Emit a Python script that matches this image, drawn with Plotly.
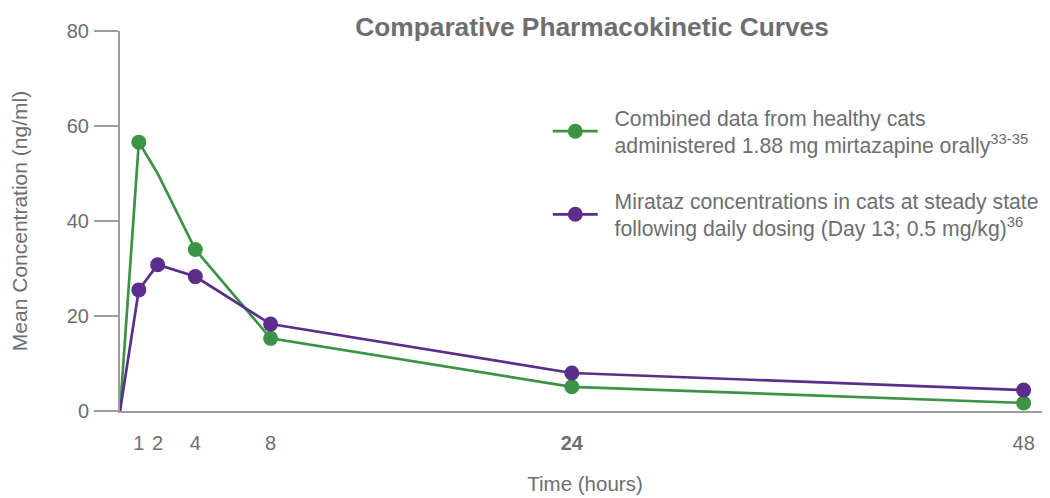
import plotly.graph_objects as go

hours = [0, 1, 2, 4, 8, 24, 48]
combined = [0, 56.6, 50.0, 34.0, 15.3, 5.1, 1.7]
combined_marked = [1, 3, 4, 5, 6]          # indices of points drawn with a marker
hours_m = [0, 1, 2, 4, 8, 24, 48]
mirataz = [0, 25.5, 30.8, 28.3, 18.3, 8.0, 4.4]
mirataz_marked = [1, 2, 3, 4, 5, 6]

x_ticks = [1, 2, 4, 8, 24, 48]
x_ticktext = ["1", "2", "4", "8", "<b>24</b>", "48"]
y_ticks = [0, 20, 40, 60, 80]

GREEN = "#3C9346"
PURPLE = "#5B2E8C"
GRAY = "#6D6E71"
AXIS = "#9D9D9D"
FONT = "Liberation Sans, Arial, sans-serif"
PAD = "\u00a0\u00a0"

name1 = (PAD + "Combined data from healthy cats<br>" + PAD +
         "administered 1.88 mg mirtazapine orally<sup>33-35</sup>")
name2 = (PAD + "Mirataz concentrations in cats at steady state<br>" + PAD +
         "following daily dosing (Day 13; 0.5 mg/kg)<sup>36</sup>")

fig = go.Figure()
fig.add_trace(go.Scatter(
    x=hours, y=combined, mode="lines+markers", name=name1, legendgroup="a",
    line=dict(color=GREEN, width=2.7),
    marker=dict(color=GREEN, size=15),
    selectedpoints=combined_marked,
    selected=dict(marker=dict(opacity=1)),
    unselected=dict(marker=dict(opacity=0)),
))
fig.add_trace(go.Scatter(
    x=hours_m, y=mirataz, mode="lines+markers", name=name2, legendgroup="b",
    line=dict(color=PURPLE, width=2.7),
    marker=dict(color=PURPLE, size=15),
    selectedpoints=mirataz_marked,
    selected=dict(marker=dict(opacity=1)),
    unselected=dict(marker=dict(opacity=0)),
))

# page has an 8px body margin; figure sized so it ends at the window edge
fig.update_layout(
    width=1042, height=490,
    margin=dict(l=112, r=0, t=23, b=87),
    paper_bgcolor="white", plot_bgcolor="white",
    font=dict(family=FONT, color=GRAY, size=20),
    title=dict(text="<b>Comparative Pharmacokinetic Curves</b>", x=0.5605, xanchor="center",
               y=0.961, yanchor="middle", font=dict(size=26.3, color=GRAY)),
    showlegend=True,
    legend=dict(x=0.46, y=0.826, xanchor="left", yanchor="top", font=dict(size=21.2, color=GRAY),
                bgcolor="rgba(0,0,0,0)", tracegroupgap=25, itemwidth=45),
    xaxis=dict(range=[0, 49.4], tickvals=x_ticks, ticktext=x_ticktext, showgrid=False,
               zeroline=False, showline=True, linecolor=AXIS, linewidth=2, ticks="",
               ticklabelstandoff=13, tickfont=dict(size=20, color=GRAY), automargin="left+right",
               title=dict(text="Time (hours)", font=dict(size=20.5, color=GRAY), standoff=24)),
    yaxis=dict(range=[0, 80], tickvals=y_ticks, showgrid=False, zeroline=False,
               showline=True, linecolor=AXIS, linewidth=2, ticks="outside", ticklen=24,
               tickcolor=AXIS, tickwidth=2, ticklabelstandoff=1, tickfont=dict(size=20, color=GRAY),
               automargin="top+bottom",
               title=dict(text="Mean Concentration (ng/ml)", font=dict(size=21, color=GRAY), standoff=33)),
)

fig.write_html("out.html")
